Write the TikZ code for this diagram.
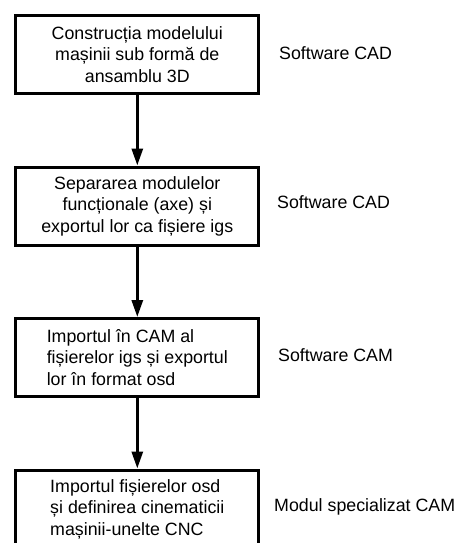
\documentclass[tikz,border=0pt]{standalone}
\usepackage{fontspec}
\setmainfont{Liberation Sans}
\usetikzlibrary{arrows.meta, positioning}

\begin{document}
\begin{tikzpicture}[
		x=1pt, y=-1pt,
		etapa/.style={rectangle, draw, line width=3pt, minimum width=243pt, minimum height=78pt, inner sep=0pt, font=\fontsize{17.8}{21.5}\selectfont},
		soft/.style={anchor=west, inner sep=0pt, font=\fontsize{17.8}{21.5}\selectfont},
		>={Triangle[length=17pt, width=11pt]} % varf de sageata plin
		]
		\useasboundingbox (0,0) rectangle (462,543);
		\clip (0,0) rectangle (462,543);
		
		% Etapele
		\node[etapa, align=center] (constr) at (137.3, 54.5) {Construcția modelului\\mașinii sub formă de\\ansamblu 3D};
		\node[etapa, align=center, below=70.5pt of constr] (separ) {Separarea modulelor\\funcționale (axe) și\\exportul lor ca fișiere igs};
		\node[etapa, align=left, below=70.5pt of separ] (import) {Importul în CAM al\\fișierelor igs și exportul\\lor în format osd};
		\node[etapa, align=left, below=70.5pt of import] (defin) {Importul fișierelor osd\\și definirea cinematicii\\mașinii-unelte CNC};
		
		% Programele folosite
		\node[soft] (cad1) at (279, 53) {Software CAD};
		\node[soft] (cad2) at (277, 202) {Software CAD};
		\node[soft] (cam) at (278, 355) {Software CAM};
		\node[soft] (modul) at (274, 507) {Modul specializat CAM};
		
		% Sagetile
		\draw[->, line width=3pt] (constr) -- (separ);
		\draw[->, line width=3pt] (separ) -- (import);
		\draw[->, line width=3pt] (import) -- (defin);
	\end{tikzpicture}
\end{document}
